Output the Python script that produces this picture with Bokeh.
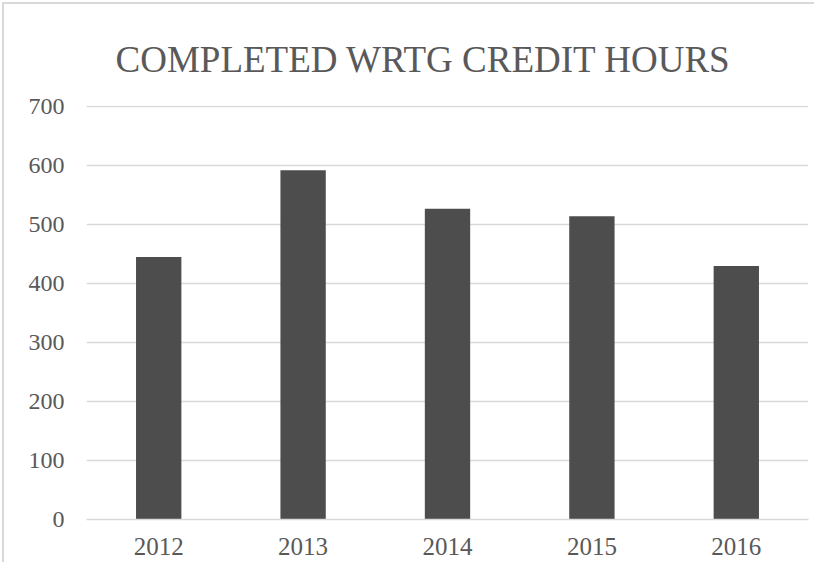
from bokeh.plotting import figure
from bokeh.models import FactorRange, Range1d, FixedTicker
from bokeh.embed import file_html
from bokeh.resources import INLINE

years = ["2012", "2013", "2014", "2015", "2016"]
hours = [445, 592, 527, 514, 430]
y_ticks = [0, 100, 200, 300, 400, 500, 600, 700]
title_text = "COMPLETED WRTG CREDIT HOURS"

p = figure(width=812, height=560, x_range=FactorRange(*years, range_padding=0),
           y_range=Range1d(0, 702), output_backend="svg", toolbar_location=None,
           min_border_left=82, min_border_right=8, min_border_top=101, min_border_bottom=45,
           title=title_text)
p.margin = (2, 0, 0, 2)
p.styles = {"border-left": "2px solid #d9d9d9", "border-top": "2px solid #d9d9d9"}
p.outline_line_color = None
p.background_fill_color = "white"
p.border_fill_color = "white"

p.title.align = "left"
p.title.offset = 29
p.title.standoff = 52
p.title.text_font = "Liberation Serif"
p.title.text_font_size = "37px"
p.title.text_font_style = "normal"
p.title.text_color = "#595959"

p.vbar(x=years, top=hours, width=0.314, fill_color="#4d4d4d", line_color=None)

p.yaxis.ticker = FixedTicker(ticks=y_ticks)
p.ygrid.ticker = FixedTicker(ticks=y_ticks)
p.xgrid.grid_line_color = None
p.ygrid.grid_line_color = "#d9d9d9"
p.ygrid.grid_line_width = 1.5

for ax in (p.xaxis, p.yaxis):
    ax.major_tick_line_color = None
    ax.minor_tick_line_color = None
    ax.major_label_text_font = "Liberation Serif"
    ax.major_label_text_color = "#595959"
p.yaxis.major_label_text_font_size = "24px"
p.xaxis.major_label_text_font_size = "25px"
p.yaxis.axis_line_color = None
p.xaxis.axis_line_color = "#d9d9d9"
p.xaxis.axis_line_width = 1.5
p.yaxis.major_label_standoff = 16
p.xaxis.major_label_standoff = 12

open("out.html", "w").write(file_html(p, INLINE))
